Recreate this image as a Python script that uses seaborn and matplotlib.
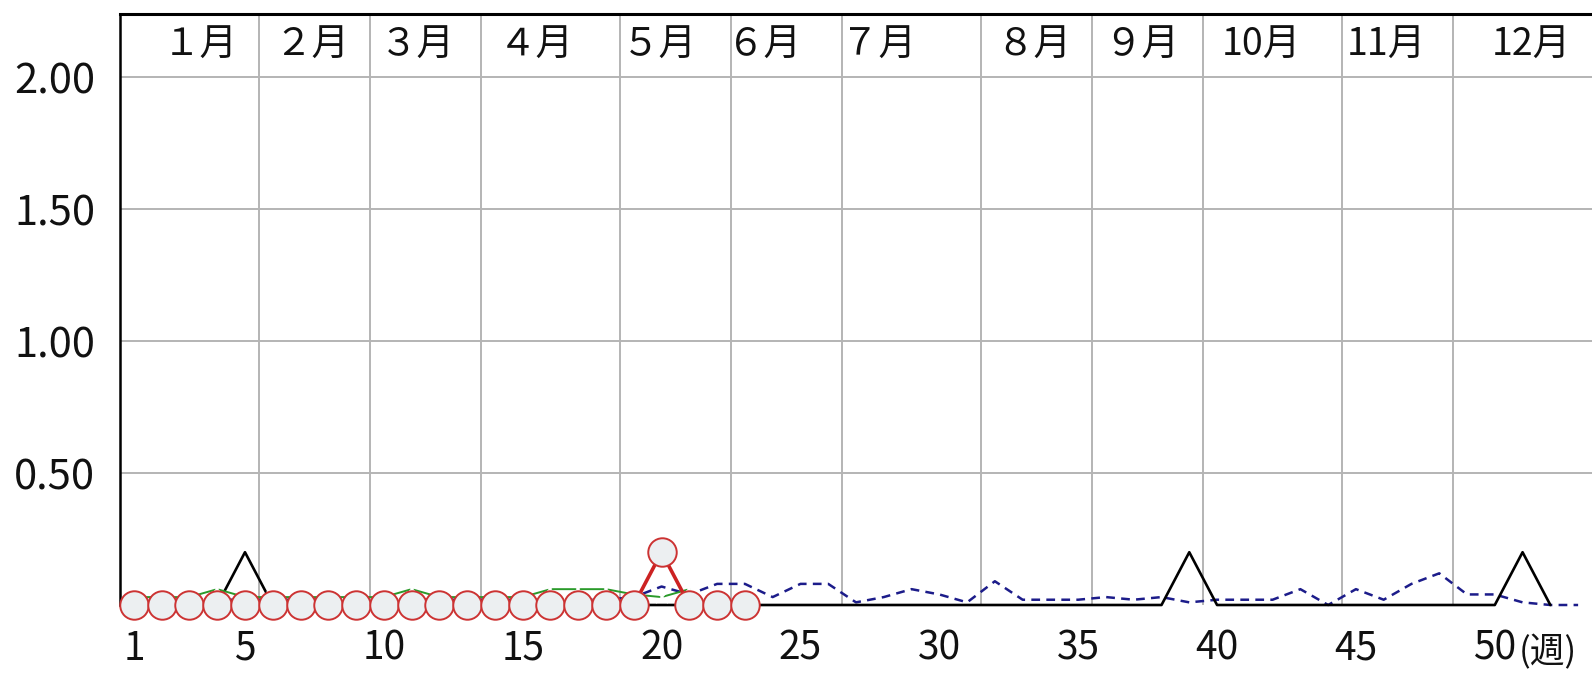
import numpy as np
import pandas as pd
import seaborn as sns
import matplotlib.pyplot as plt
from matplotlib.ticker import FixedLocator, FixedFormatter

# weekly values (per sentinel)
weeks_current = list(range(1, 24))
current_year = [0, 0, 0, 0, 0, 0, 0, 0, 0, 0, 0, 0, 0, 0, 0,
                0, 0, 0, 0, 0.2, 0, 0, 0]

weeks_prev = list(range(1, 53))
prev_year = [0, 0, 0, 0, 0.2, 0, 0, 0, 0, 0, 0, 0, 0, 0, 0, 0, 0, 0, 0, 0,
             0, 0, 0, 0, 0, 0, 0, 0, 0, 0, 0, 0, 0, 0, 0, 0, 0, 0, 0.2, 0,
             0, 0, 0, 0, 0, 0, 0, 0, 0, 0, 0.2, 0]

weeks_green = list(range(1, 22))
green_year = [0.03, 0.03, 0.03, 0.06, 0.03, 0.03, 0.03, 0.03, 0.03, 0.03,
              0.06, 0.03, 0.03, 0.03, 0.03, 0.06, 0.06, 0.06, 0.04, 0.03, 0.06]

weeks_avg = list(range(1, 54))
avg_years = [0.02, 0.02, 0.02, 0.02, 0.02, 0.02, 0.02, 0.02, 0.02, 0.02,
             0.02, 0.02, 0.02, 0.02, 0.02, 0.02, 0.02, 0.02, 0.03, 0.07,
             0.04, 0.08, 0.08, 0.03, 0.08, 0.08, 0.01, 0.03, 0.06, 0.04,
             0.01, 0.09, 0.02, 0.02, 0.02, 0.03, 0.02, 0.03, 0.01, 0.02,
             0.02, 0.02, 0.06, 0.00, 0.06, 0.02, 0.08, 0.12, 0.04, 0.04,
             0.01, 0.00, 0.00]

week_labels = [1, 5, 10, 15, 20, 25, 30, 35, 40, 45, 50]
month_labels = ['１月', '２月', '３月', '４月', '５月', '６月', '７月', '８月',
                '９月', '10月', '11月', '12月']
month_end_weeks = [5, 9, 13, 18, 22, 26, 31, 35, 39, 44, 48]
month_label_x = [3.4, 7.4, 11.2, 15.5, 19.9, 23.7, 27.8, 33.4, 37.3, 41.6, 46.1, 51.3]
y_ticks = [0.5, 1.0, 1.5, 2.0]

sns.set_style('white')
jp_font = ['Noto Sans CJK JP', 'DejaVu Sans']
plt.rcParams['font.family'] = jp_font

fig = plt.figure(figsize=(15.92, 6.74), dpi=100)
ax = fig.add_axes([120 / 1592, 69 / 674, 1472 / 1592, 591 / 674])

avg_df = pd.DataFrame({'week': weeks_avg, 'value': avg_years})
prev_df = pd.DataFrame({'week': weeks_prev, 'value': prev_year})
green_df = pd.DataFrame({'week': weeks_green, 'value': green_year})
cur_df = pd.DataFrame({'week': weeks_current, 'value': current_year})

sns.lineplot(data=avg_df, x='week', y='value', ax=ax, color='#1c1c8a',
             linewidth=1.8, linestyle=(0, (3.5, 2.5)), clip_on=False, zorder=3)
sns.lineplot(data=prev_df, x='week', y='value', ax=ax, color='black',
             linewidth=1.9, clip_on=False, zorder=4)
sns.lineplot(data=green_df, x='week', y='value', ax=ax, color='#2a9a2a',
             linewidth=1.4, marker='x', markersize=9, markeredgewidth=1.3,
             clip_on=False, zorder=5)
sns.lineplot(data=cur_df, x='week', y='value', ax=ax, color='#cc2222',
             linewidth=2.6, marker='o', markersize=20.5,
             markerfacecolor='#eceff1', markeredgecolor='#cc3333',
             markeredgewidth=1.4, clip_on=False, zorder=6)

ax.set_xlim(0.5, 53.5)
ax.set_ylim(0, 2.239)

# month boundaries
for w in month_end_weeks:
    ax.axvline(w + 0.5, color='#b4b4b4', linewidth=1.4, zorder=1)
ax.yaxis.set_major_locator(FixedLocator(y_ticks))
ax.yaxis.set_major_formatter(FixedFormatter([f'{v:.2f}' for v in y_ticks]))
ax.yaxis.grid(True, color='#b4b4b4', linewidth=1.4)
ax.set_axisbelow(True)

ax.xaxis.set_major_locator(FixedLocator(week_labels))
ax.xaxis.set_major_formatter(FixedFormatter([str(w) for w in week_labels]))
ax.xaxis.set_minor_locator(FixedLocator(np.arange(0.5, 53, 1.0)))
ax.tick_params(axis='x', which='major', length=0, pad=17, labelsize=28,
               labelcolor='#111111')
ax.tick_params(axis='x', which='minor', length=10, width=1.6,
               direction='out', color='black')
ax.tick_params(axis='y', which='major', length=0, pad=18, labelsize=30,
               labelcolor='#111111')

for x, lab in zip(month_label_x, month_labels):
    ax.text(x, 2.122, lab, ha='center', va='center', fontsize=27,
            color='#111111')

ax.annotate('(週)', xy=(50.85, 0), xycoords='data', xytext=(0, -34),
            textcoords='offset points', ha='left', va='center',
            fontsize=25, color='#111111', annotation_clip=False)

ax.set_xlabel('')
ax.set_ylabel('')
for side in ['bottom', 'right']:
    ax.spines[side].set_visible(False)
ax.spines['left'].set_linewidth(1.8)
ax.spines['top'].set_linewidth(2.2)
ax.spines['left'].set_color('black')
ax.spines['top'].set_color('black')

fig.savefig('out.png', dpi=100)
